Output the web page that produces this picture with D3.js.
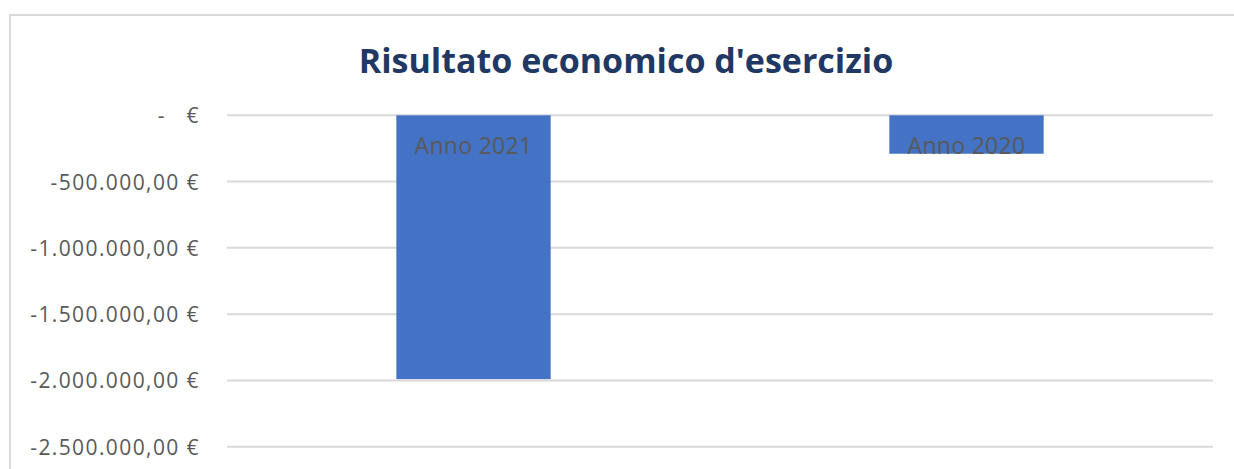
<!DOCTYPE html>
<html>
<head>
<meta charset="utf-8">
<script src="https://cdn.jsdelivr.net/npm/d3@7"></script>
<style>
  html, body { margin: 0; padding: 0; background: #fff; }
  svg { display: block; }
</style>
</head>
<body>
<svg id="chart" width="1234" height="469"></svg>
<script>
// Net result for the year, by financial year
const categories = ["Anno 2021", "Anno 2020"];
const values = [-1990000, -290000];
const tickValues = [0, -500000, -1000000, -1500000, -2000000, -2500000];
const title = "Risultato economico d'esercizio";

const W = 1234, H = 469;
const svg = d3.select("#chart");

// chart area frame (continues past the right and bottom edges)
svg.append("rect")
  .attr("x", 10).attr("y", 15)
  .attr("width", W + 20).attr("height", H + 20)
  .attr("fill", "#fff")
  .attr("stroke", "#d9d9d9")
  .attr("stroke-width", 2);

const plot = { left: 227, right: 1213, top: 115.3, bottom: 446.7 };

const x = d3.scaleBand()
  .domain(categories)
  .range([plot.left, plot.right])
  .paddingInner(0.687)
  .paddingOuter(0.3435);

const y = d3.scaleLinear()
  .domain([-2500000, 0])
  .range([plot.bottom, plot.top]);

const it = d3.formatLocale({
  decimal: ",", thousands: ".", grouping: [3],
  currency: ["", " €"], minus: "-"
});
const money = it.format("$,.2f");
const tickFmt = v => v === 0 ? "-   €" : money(v);

// gridlines
svg.append("g")
  .selectAll("line")
  .data(tickValues)
  .join("line")
  .attr("x1", plot.left).attr("x2", plot.right)
  .attr("y1", d => y(d)).attr("y2", d => y(d))
  .attr("stroke", "#d9d9d9")
  .attr("stroke-width", 2);

// value axis labels
const yAxis = d3.axisLeft(y)
  .tickValues(tickValues)
  .tickFormat(tickFmt)
  .tickSize(0)
  .tickPadding(0);

const gy = svg.append("g")
  .attr("transform", `translate(${plot.left - 27},0)`)
  .call(yAxis);
gy.select(".domain").remove();
gy.selectAll("text")
  .attr("fill", "#595959")
  .attr("font-family", "'Open Sans', sans-serif")
  .attr("font-size", 21)
  .attr("letter-spacing", "1.4px")
  .attr("dy", "0.36em")
  .style("white-space", "pre");

// bars
svg.append("g")
  .selectAll("rect")
  .data(categories)
  .join("rect")
  .attr("x", d => x(d))
  .attr("width", x.bandwidth())
  .attr("y", y(0))
  .attr("height", (d, i) => y(values[i]) - y(0))
  .attr("fill", "#4472c4");

// category labels inside the bars
svg.append("g")
  .selectAll("text")
  .data(categories)
  .join("text")
  .attr("x", d => x(d) + x.bandwidth() / 2)
  .attr("y", y(0) + 38.5)
  .attr("text-anchor", "middle")
  .attr("fill", "#595959")
  .attr("font-family", "'Open Sans', sans-serif")
  .attr("font-size", 23)
  .attr("letter-spacing", "0.3px")
  .text(d => d);

// title
svg.append("text")
  .attr("x", 626)
  .attr("y", 73)
  .attr("text-anchor", "middle")
  .attr("fill", "#1f3864")
  .attr("font-family", "'Open Sans', sans-serif")
  .attr("font-weight", "bold")
  .attr("font-size", 34)
  .text(title);
</script>
</body>
</html>
